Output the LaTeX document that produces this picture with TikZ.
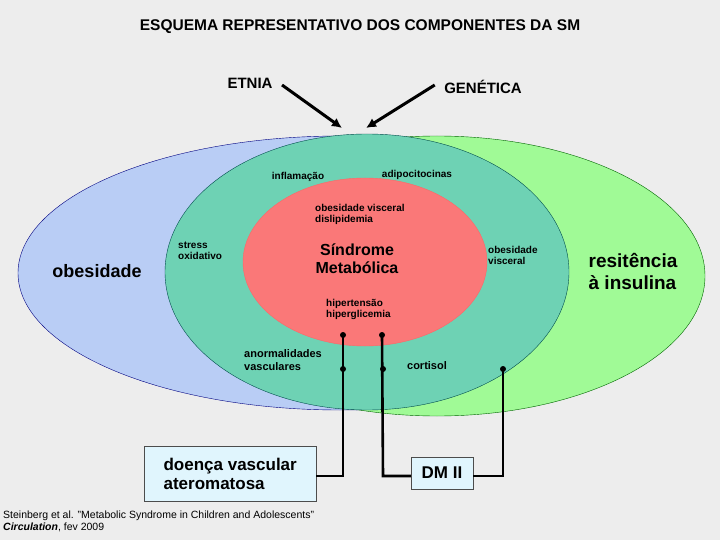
\documentclass[tikz,border=0pt]{standalone}
\usepackage{fontspec}
\setmainfont{Liberation Sans}
\usetikzlibrary{arrows.meta}
\begin{document}
\begin{tikzpicture}[x=1pt,y=-1pt,
  lbl/.style={font=\bfseries\fontsize{10}{11}\selectfont,align=left,inner sep=0pt},
  conn/.style={line width=2.6pt},
  dot/.style={circle,fill=black,inner sep=0pt,minimum size=6pt},
  bx/.style={draw=black!70,fill=cyan!12,inner sep=3pt,font=\bfseries\fontsize{17}{19}\selectfont,align=left},
  arr/.style={line width=3pt,-{Latex[length=10pt,width=10pt]}}]
\fill[black!7] (0,0) rectangle (720,540);
\useasboundingbox (0,0) rectangle (720,540);
\draw[fill={rgb,255:red,185;green,205;blue,245},draw=blue!50!black] (340,273) ellipse [x radius=322,y radius=137];
\draw[fill={rgb,255:red,160;green,250;blue,150},draw=green!40!black] (437,276) ellipse [x radius=268,y radius=140];
\draw[fill={rgb,255:red,110;green,210;blue,180},draw=teal!60!black] (367,272) ellipse [x radius=202,y radius=138];
\draw[fill={rgb,255:red,250;green,120;blue,120},draw=red!60!white] (365,262) ellipse [x radius=122,y radius=84];
\node[font=\bfseries\fontsize{15.5}{17}\selectfont] (title) at (360,27) {ESQUEMA REPRESENTATIVO DOS COMPONENTES DA SM};
\node[font=\bfseries\fontsize{15}{17}\selectfont] (etnia) at (250,83) {ETNIA};
\node[font=\bfseries\fontsize{15}{17}\selectfont] (gen) at (483,87) {GENÉTICA};
\coordinate (t1) at (342,128);
\coordinate (t2) at (366,128);
\draw[arr] (etnia.east)++(6,2) -- (t1);
\draw[arr] (gen.west)++(-6,-2) -- (t2);
\node[lbl] (infl) at (298,177) {inflamação};
\node[lbl] (adip) at (417,175) {adipocitocinas};
\node[lbl,anchor=west] (ov) at (315,214) {obesidade visceral\\dislipidemia};
\node[font=\bfseries\fontsize{16}{18}\selectfont,align=center] (sm) at (357,259) {Síndrome\\Metabólica};
\node[lbl,anchor=west] (so) at (178,251) {stress\\oxidativo};
\node[font=\bfseries\fontsize{18}{20}\selectfont] (ob) at (97,271) {obesidade};
\node[lbl,anchor=west] (ov2) at (488,255) {obesidade\\visceral};
\node[font=\bfseries\fontsize{19}{22}\selectfont,align=left] (ri) at (633,271) {resitência\\à insulina};
\node[lbl,anchor=west] (hh) at (326,309) {hipertensão\\hiperglicemia};
\node[lbl,anchor=west,font=\bfseries\fontsize{11}{13}\selectfont] (av) at (244,360) {anormalidades\\vasculares};
\node[lbl,font=\bfseries\fontsize{11}{13}\selectfont] (co) at (427,366) {cortisol};
\node[bx,anchor=north west,minimum width=172pt,minimum height=55pt] (dv) at (144,446) {doença vascular\\ateromatosa};
\node[bx,minimum width=62pt,minimum height=32pt] (dm) at (442,473) {DM II};
\node[dot] (d1) at (343,335) {};
\node[dot] (d2) at (343,369) {};
\node[dot] (d3) at (382,335) {};
\node[dot] (d4) at (383,369) {};
\node[dot] (d5) at (503,369) {};
\draw[conn] (d1.center) -- (343,476) -- (dv.east|-0,476);
\draw[conn] (d3.center) -- (383,476) -- (dm.west|-0,476);
\draw[conn] (dm.east|-0,476) -- (503,476) -- (d5.center);
\node[anchor=west,inner sep=0pt,font=\fontsize{10.5}{12}\selectfont,align=left] (cit) at (3,521) {Steinberg et al. "Metabolic Syndrome in Children and Adolescents"\\\textbf{\textit{Circulation}}, fev 2009};
\end{tikzpicture}
\end{document}
